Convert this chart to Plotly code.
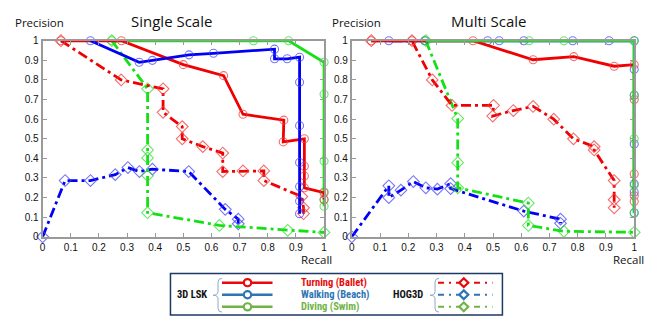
import plotly.graph_objects as go

W, H = 661, 322

# ---------------- data ----------------
# Single scale
ss_lsk_turn_x = [0.065, 0.28, 0.50, 0.643, 0.712, 0.857, 0.855, 0.93, 0.93, 0.93, 0.93, 1.0, 1.0]
ss_lsk_turn_y = [1.0, 1.0, 0.878, 0.822, 0.625, 0.595, 0.484, 0.50, 0.36, 0.31, 0.25, 0.225, 0.19]
ss_lsk_walk_x = [0.17, 0.343, 0.39, 0.52, 0.607, 0.824, 0.824, 0.869, 0.913, 0.913, 0.913, 0.913, 0.913, 0.913, 0.913]
ss_lsk_walk_y = [1.0, 0.89, 0.90, 0.928, 0.936, 0.957, 0.908, 0.908, 0.916, 0.788, 0.567, 0.379, 0.256, 0.182, 0.118]
ss_lsk_dive_x = [0.246, 0.749, 0.874, 1.0, 1.0, 1.0, 1.0, 1.0, 1.0]
ss_lsk_dive_y = [1.0, 1.0, 1.0, 0.89, 0.727, 0.386, 0.23, 0.189, 0.156]
ss_hog_turn_x = [0.065, 0.279, 0.428, 0.428, 0.496, 0.496, 0.569, 0.64, 0.64, 0.712, 0.786, 0.786, 0.921, 0.927, 0.927]
ss_hog_turn_y = [1.0, 0.80, 0.755, 0.635, 0.562, 0.50, 0.46, 0.427, 0.333, 0.336, 0.336, 0.287, 0.205, 0.148, 0.118]
ss_hog_walk_x = [0.0, 0.08, 0.17, 0.258, 0.303, 0.344, 0.39, 0.519, 0.649, 0.695, 0.695]
ss_hog_walk_y = [0.0, 0.287, 0.287, 0.317, 0.353, 0.333, 0.345, 0.333, 0.14, 0.09, 0.066]
ss_hog_dive_x = [0.246, 0.373, 0.373, 0.373, 0.373, 0.373, 0.628, 0.871, 1.0]
ss_hog_dive_y = [1.0, 0.755, 0.443, 0.402, 0.312, 0.123, 0.058, 0.033, 0.022]

# Multi scale
ms_lsk_turn_x = [0.069, 0.213, 0.429, 0.642, 0.786, 0.929, 1.0, 1.0, 1.0, 1.0, 1.0]
ms_lsk_turn_y = [1.0, 1.0, 1.0, 0.903, 0.919, 0.87, 0.878, 0.70, 0.32, 0.21, 0.18]
ms_lsk_walk_x = [0.131, 0.258, 0.481, 0.522, 0.609, 0.782, 0.911, 1.0, 1.0, 1.0, 1.0, 1.0, 1.0, 1.0]
ms_lsk_walk_y = [1.0, 1.0, 1.0, 1.0, 1.0, 1.0, 1.0, 1.0, 0.854, 0.722, 0.473, 0.27, 0.227, 0.123]
ms_lsk_dive_x = [0.262, 0.628, 0.751, 1.0, 1.0, 1.0, 1.0, 1.0]
ms_lsk_dive_y = [1.0, 1.0, 1.0, 1.0, 0.722, 0.50, 0.263, 0.12]
ms_hog_turn_x = [0.069, 0.213, 0.285, 0.355, 0.502, 0.499, 0.572, 0.642, 0.715, 0.785, 0.858, 0.858, 0.929, 0.929, 0.929]
ms_hog_turn_y = [1.0, 1.0, 0.80, 0.67, 0.67, 0.616, 0.644, 0.665, 0.60, 0.50, 0.46, 0.443, 0.287, 0.189, 0.148]
ms_hog_walk_x = [0.0, 0.131, 0.131, 0.174, 0.218, 0.262, 0.303, 0.35, 0.35, 0.609, 0.739, 0.739]
ms_hog_walk_y = [0.0, 0.26, 0.20, 0.238, 0.282, 0.25, 0.243, 0.271, 0.246, 0.131, 0.09, 0.069]
ms_hog_dive_x = [0.262, 0.375, 0.375, 0.375, 0.625, 0.625, 0.751, 1.0]
ms_hog_dive_y = [1.0, 0.603, 0.378, 0.25, 0.172, 0.058, 0.028, 0.023]

tick_vals = [0, 0.1, 0.2, 0.3, 0.4, 0.5, 0.6, 0.7, 0.8, 0.9, 1]
tick_text = ["0", "0.1", "0.2", "0.3", "0.4", "0.5", "0.6", "0.7", "0.8", "0.9", "1"]

legend_names = ["Turning (Ballet)", "Walking (Beach)", "Diving (Swim)"]

RED = "rgb(240,0,0)"
BLUE = "rgb(0,0,245)"
GREEN = "rgb(20,225,20)"
RED_M = "rgba(240,60,60,0.75)"
BLUE_M = "rgba(60,60,245,0.7)"
GREEN_M = "rgba(40,220,40,0.7)"

def px(x):
    return x / W

def py(y):
    return 1 - y / H

fig = go.Figure()

DASH = "10px,4px,3px,4px"

def add(xs, ys, color, mcolor, solid, axis):
    xa, ya = axis
    fig.add_trace(go.Scatter(
        x=xs, y=ys, mode="lines+markers", xaxis=xa, yaxis=ya,
        line=dict(color=color, width=2.8, dash="solid" if solid else DASH),
        marker=dict(symbol="circle-open" if solid else "diamond-open",
                    size=8 if solid else 9, color=mcolor, line=dict(width=1.1)),
        cliponaxis=False, showlegend=False, hoverinfo="x+y"))

A1 = ("x", "y")
A2 = ("x2", "y2")
add(ss_hog_walk_x, ss_hog_walk_y, BLUE, BLUE_M, False, A1)
add(ss_hog_dive_x, ss_hog_dive_y, GREEN, GREEN_M, False, A1)
add(ss_hog_turn_x, ss_hog_turn_y, RED, RED_M, False, A1)
add(ss_lsk_dive_x, ss_lsk_dive_y, GREEN, GREEN_M, True, A1)
add(ss_lsk_turn_x, ss_lsk_turn_y, RED, RED_M, True, A1)
add(ss_lsk_walk_x, ss_lsk_walk_y, BLUE, BLUE_M, True, A1)

add(ms_hog_walk_x, ms_hog_walk_y, BLUE, BLUE_M, False, A2)
add(ms_hog_dive_x, ms_hog_dive_y, GREEN, GREEN_M, False, A2)
add(ms_hog_turn_x, ms_hog_turn_y, RED, RED_M, False, A2)
add(ms_lsk_walk_x, ms_lsk_walk_y, BLUE, BLUE_M, True, A2)
add(ms_lsk_turn_x, ms_lsk_turn_y, RED, RED_M, True, A2)
add(ms_lsk_dive_x, ms_lsk_dive_y, GREEN, GREEN_M, True, A2)

tickfont = dict(family="Liberation Sans, Arial", size=10, color="#111")
axis_common = dict(range=[0, 1], tickvals=tick_vals, ticktext=tick_text,
                   showgrid=False, zeroline=False, showline=True, mirror="ticks",
                   linecolor="#9a9a9a", linewidth=2, ticks="inside", ticklen=4,
                   tickcolor="#9a9a9a", tickfont=tickfont, fixedrange=True)

Y0, Y1 = py(240), py(37)
fig.update_layout(
    width=W, height=H, autosize=False,
    margin=dict(l=0, r=0, t=0, b=0),
    paper_bgcolor="white", plot_bgcolor="white",
    xaxis=dict(domain=[px(40), px(324)], anchor="y", **axis_common),
    yaxis=dict(domain=[Y0, Y1], anchor="x", **axis_common),
    xaxis2=dict(domain=[px(352), px(637)], anchor="y2", **axis_common),
    yaxis2=dict(domain=[Y0, Y1], anchor="x2", **axis_common),
)
fig.update_xaxes(tickprefix="<b>", ticksuffix="</b>")
fig.update_yaxes(tickprefix="<b>", ticksuffix="</b>")

TF = "Open Sans, Lato, sans-serif"
NF = "Liberation Sans Narrow, Roboto Condensed, Lato, sans-serif"
def ann(text, x, y, size, color="#111", xanchor="center", bold=False, family=TF):
    fig.add_annotation(text=("<b>%s</b>" % text) if bold else text,
                       x=px(x), y=py(y), xref="paper", yref="paper",
                       xanchor=xanchor, yanchor="middle", showarrow=False,
                       borderpad=0,
                       font=dict(family=family, size=size, color=color))

ann("Single Scale", 170, 17, 15)
ann("Multi Scale", 490, 17, 15)
ann("Precision", 37, 18, 11.5)
ann("Precision", 357, 18, 11.5)
ann("Recall", 316, 264, 11.5)
ann("Recall", 631, 264, 11.5)

# ---------- legend box ----------
fig.add_shape(type="rect", xref="paper", yref="paper",
              x0=px(169), x1=px(504), y0=py(321), y1=py(278),
              line=dict(color="#1F3864", width=1.5), fillcolor="white")

LRED = "rgb(232,10,10)"
LBLUE = "rgb(46,117,182)"
LGREEN = "rgb(112,180,71)"
leg_cols = [LRED, LBLUE, LGREEN]
leg_y = [287.5, 300, 312.5]

ann("3D LSK", 191, 300, 10.5, bold=True, family=NF)
ann("HOG3D", 409, 300, 10.5, bold=True, family=NF)

def brace(xr, ytop, ybot, xl):
    ym = (ytop + ybot) / 2
    path = ("M %f %f Q %f %f %f %f L %f %f Q %f %f %f %f Q %f %f %f %f L %f %f Q %f %f %f %f" % (
        px(xr), py(ytop),
        px(xr - 4), py(ytop), px(xr - 4), py(ytop + 4),
        px(xr - 4), py(ym - 4),
        px(xr - 4), py(ym), px(xl), py(ym),
        px(xr - 4), py(ym), px(xr - 4), py(ym + 4),
        px(xr - 4), py(ybot - 4),
        px(xr - 4), py(ybot), px(xr), py(ybot)))
    fig.add_shape(type="path", xref="paper", yref="paper", path=path,
                  line=dict(color="#8fa8c8", width=1))

brace(221, 283, 318, 212)
brace(440, 283, 318, 431)

for c, yy, name in zip(leg_cols, leg_y, legend_names):
    fig.add_shape(type="line", xref="paper", yref="paper",
                  x0=px(221), x1=px(272), y0=py(yy), y1=py(yy),
                  line=dict(color=c, width=2.5))
    fig.add_shape(type="circle", xref="paper", yref="paper",
                  x0=px(243), x1=px(250.5), y0=py(yy + 3.7), y1=py(yy - 3.7),
                  line=dict(color=c, width=2.2), fillcolor="white")
    ann(name, 300, yy, 10.5, color=c, xanchor="left", bold=True, family=NF)
    fig.add_shape(type="line", xref="paper", yref="paper",
                  x0=px(439), x1=px(494), y0=py(yy), y1=py(yy),
                  line=dict(color=c, width=2, dash="6px,5px,2px,5px"))
    fig.add_shape(type="path", xref="paper", yref="paper",
                  path="M %f %f L %f %f L %f %f L %f %f Z" % (
                      px(465), py(yy - 4.5), px(469.5), py(yy),
                      px(465), py(yy + 4.5), px(460.5), py(yy)),
                  line=dict(color=c, width=2.2), fillcolor="white")

fig.write_html("out.html")
